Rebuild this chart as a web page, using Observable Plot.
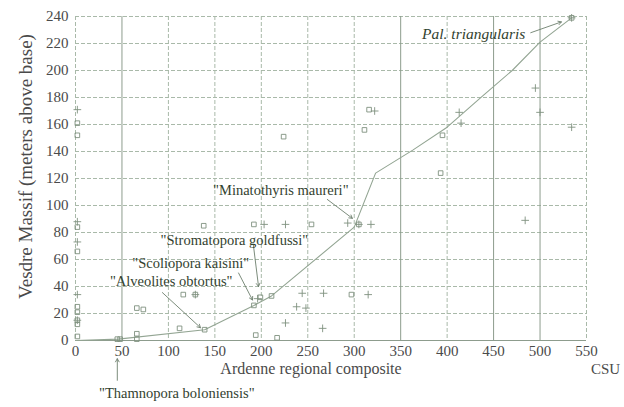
<!DOCTYPE html>
<html>
<head>
<meta charset="utf-8">
<script src="https://cdn.jsdelivr.net/npm/d3@7"></script>
<script src="https://cdn.jsdelivr.net/npm/@observablehq/plot@0.6"></script>
<style>
  html, body { margin: 0; padding: 0; background: #ffffff; }
  #chart svg { display: block; }
  #chart svg, #chart svg text { font-family: "Liberation Serif", "Times New Roman", serif !important; }
</style>
</head>
<body>
<div id="chart"></div>
<script>
// Composite-standard correlation: Vesdre Massif section vs Ardenne regional composite (CSU)

// Tick values
const xTicks = [0, 50, 100, 150, 200, 250, 300, 350, 400, 450, 500, 550];
const yTicks = [0, 20, 40, 60, 80, 100, 120, 140, 160, 180, 200, 220, 240];

// Taxon first/last occurrences drawn as open squares
const squareX = [2, 2, 2, 2, 2, 2, 2, 2, 2, 45, 48, 66, 66, 66, 73, 112, 116, 129, 139, 138, 192, 254, 192, 199, 211, 194, 217, 297, 305, 224, 316, 311, 395, 393, 534];
const squareY = [161, 152, 84, 66, 25, 21, 15, 12, 3, 1, 1, 5, 1, 24, 23, 9, 34, 34, 8, 85, 86, 86, 26, 32, 33, 4, 2, 34, 86, 151, 171, 156, 152, 124, 239];

// Taxon occurrences drawn as plus signs
const plusX = [2, 2, 2, 2, 2, 129, 196, 203, 226, 293, 305, 318, 244, 267, 315, 238, 248, 226, 266, 322, 415, 413, 484, 495, 500, 534, 534];
const plusY = [171, 88, 73, 34, 15, 34, 31, 86, 86, 87, 86, 86, 35, 35, 34, 25, 24, 13, 9, 170, 161, 169, 89, 187, 169, 158, 239];

// Line of correlation
const locX = [0, 46, 139, 192, 211, 300, 323, 363, 400, 438, 470, 500, 534];
const locY = [0, 1, 8, 26, 33, 84, 124, 141, 158, 181, 200, 221, 239];

// Labelled taxa: label anchor and arrow (data units)
const annLabel = ["Pal. triangularis", "\"Minatothyris maureri\"", "\"Stromatopora goldfussi\"", "\"Scoliopora kaisini\"", "\"Alveolites obtortus\"", "\"Thamnopora boloniensis\""];
const annX = [373, 221, 171, 124, 103, 109];
const annY = [227, 111, 74, 57, 44, -39];
const annStyle = ["italic", "normal", "normal", "normal", "normal", "normal"];
const arrowX1 = [490, 271, 191.5, 175.5, 93.5, 45];
const arrowY1 = [228, 104.5, 70.5, 50, 35.5, -29.5];
const arrowX2 = [523, 298, 197, 190.5, 134.5, 45];
const arrowY2 = [236, 90.5, 40, 30, 9.5, -13.5];

const squares = squareX.map((x, i) => ({x, y: squareY[i]}));
const pluses = plusX.map((x, i) => ({x, y: plusY[i]}));
const loc = locX.map((x, i) => ({x, y: locY[i]}));
const ann = annLabel.map((text, i) => ({
  text, x: annX[i], y: annY[i], style: annStyle[i],
  x1: arrowX1[i], y1: arrowY1[i], x2: arrowX2[i], y2: arrowY2[i]
}));

const serif = "Liberation Serif";
const gridColor = "#a9b9a9";
const strongGrid = [50, 350, 450, 500];
const symbolColor = "#7f917f";
const textColor = "#33422f";

const chart = Plot.plot({
  width: 624,
  height: 407,
  marginLeft: 75,
  marginRight: 38,
  marginTop: 16,
  marginBottom: 67,
  style: {fontFamily: serif, fontSize: "15px", color: "#4a4a4a", background: "#ffffff"},
  x: {domain: [0, 550]},
  y: {domain: [0, 240]},
  marks: [
    Plot.ruleY(yTicks, {stroke: gridColor, strokeWidth: 1, strokeDasharray: "4,2"}),
    Plot.ruleX(xTicks.filter(d => !strongGrid.includes(d)), {stroke: gridColor, strokeWidth: 1, strokeDasharray: "4,2"}),
    Plot.ruleX(strongGrid, {stroke: "#8d9c8d", strokeWidth: 1}),
    Plot.ruleY([0], {stroke: "#8d9c8d", strokeWidth: 1}),
    Plot.axisX({ticks: xTicks, tickSize: 0, tickPadding: 5, label: null, fontSize: 15, fontFamily: serif}),
    Plot.axisY({ticks: yTicks, tickSize: 0, tickPadding: 7, label: null, fontSize: 15, fontFamily: serif}),
    Plot.line(loc, {x: "x", y: "y", stroke: "#93a593", strokeWidth: 1.1}),
    Plot.dot(squares, {x: "x", y: "y", symbol: "square", r: 2.6, fill: "none", stroke: symbolColor, strokeWidth: 0.9}),
    Plot.dot(pluses, {x: "x", y: "y", symbol: "plus", r: 2.6, fill: "none", stroke: symbolColor, strokeWidth: 0.9}),
    Plot.arrow(ann, {x1: "x1", y1: "y1", x2: "x2", y2: "y2", stroke: "#6d7f6d", strokeWidth: 0.9, headLength: 6}),
    Plot.text(ann.filter(d => d.style === "italic"), {x: "x", y: "y", text: "text", textAnchor: "start", fontStyle: "italic", fontSize: 15.5, fontFamily: serif, fill: textColor}),
    Plot.text(ann.filter(d => d.style !== "italic"), {x: "x", y: "y", text: "text", textAnchor: "middle", fontSize: 14.5, fontFamily: serif, fill: textColor}),
    Plot.text(["Vesdre Massif (meters above base)"], {frameAnchor: "left", textAnchor: "middle", rotate: -90, dx: -50, dy: -12, fontSize: 19, fontFamily: serif, fill: "#4a4a4a"}),
    Plot.text(["Ardenne regional composite"], {frameAnchor: "bottom", textAnchor: "middle", dx: -20, dy: 33, fontSize: 16, fontFamily: serif, fill: "#4a4a4a"}),
    Plot.text(["CSU"], {frameAnchor: "bottom-right", textAnchor: "middle", dx: 19, dy: 33, fontSize: 15, fontFamily: serif, fill: "#4a4a4a"})
  ]
});

document.getElementById("chart").appendChild(chart);
</script>
</body>
</html>
